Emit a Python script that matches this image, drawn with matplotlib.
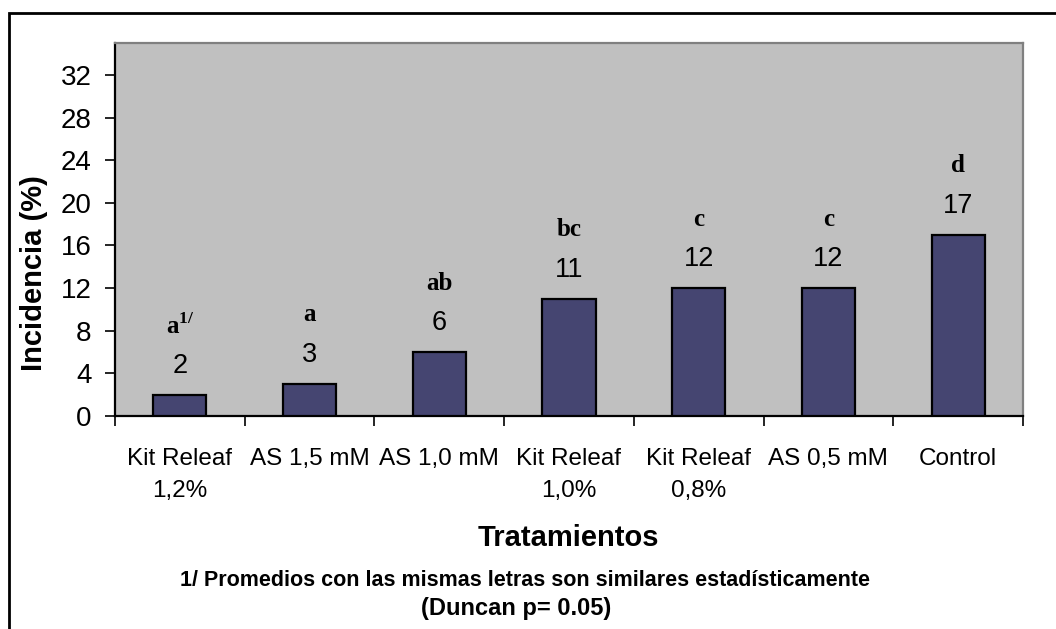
import matplotlib
matplotlib.use("Agg")
import matplotlib.pyplot as plt
from matplotlib.patches import Rectangle
import numpy as np

# datos
tratamientos = ["Kit Releaf\n1,2%", "AS 1,5 mM", "AS 1,0 mM", "Kit Releaf\n1,0%",
                "Kit Releaf\n0,8%", "AS 0,5 mM", "Control"]
incidencia = [2, 3, 6, 11, 12, 12, 17]
letras = ["a", "a", "ab", "bc", "c", "c", "d"]

plt.rcParams["font.family"] = ["Liberation Sans", "DejaVu Sans"]
plt.rcParams["mathtext.fontset"] = "custom"
plt.rcParams["mathtext.bf"] = "Liberation Serif:bold"
plt.rcParams["mathtext.rm"] = "Liberation Serif:bold"

fig = plt.figure(figsize=(10.56, 6.29), dpi=100)
ax = fig.add_axes([115 / 1056, 1 - 416 / 629, (1023 - 115) / 1056, (416 - 43) / 629])
ax.set_facecolor("#c0c0c0")

x = np.arange(len(incidencia))
ax.bar(x, incidencia, width=0.41, color="#454571", edgecolor="black", linewidth=1.6, zorder=3)

# etiquetas de valor y letras de Duncan
for xi, v, l in zip(x, incidencia, letras):
    ax.text(xi, v + 1.5, str(v), ha="center", va="bottom", fontsize=19.5)
    if xi == 0:
        ax.text(xi, v + 5.2, r"$\mathbf{a}^{\mathbf{1/}}$", ha="center", va="bottom", fontsize=18)
    else:
        ax.text(xi, v + 5.4, l, ha="center", va="bottom", fontsize=18,
                family="Liberation Serif", weight="bold")

ax.set_xlim(-0.5, len(incidencia) - 0.5)
ax.set_ylim(0, 35)
ax.set_yticks(np.arange(0, 33, 4))
ax.tick_params(axis="y", labelsize=20, length=7, width=1.2, direction="out", pad=10)
ax.set_xticks(x)
ax.set_xticklabels(tratamientos, fontsize=17.5, linespacing=1.6)
ax.tick_params(axis="x", length=0, pad=23)
ax.set_xticks(np.arange(-0.5, len(incidencia), 1), minor=True)
ax.tick_params(axis="x", which="minor", length=7, width=1.2, direction="out")

for s in ["left", "bottom"]:
    ax.spines[s].set_color("black")
    ax.spines[s].set_linewidth(1.6)
for s in ["top", "right"]:
    ax.spines[s].set_color("#808080")
    ax.spines[s].set_linewidth(1.6)

fig.text(34 / 1056, 1 - 273 / 629, "Incidencia (%)", rotation=90, ha="center", va="center",
         fontsize=21, weight="bold")

fig.text(568 / 1056, 1 - 538 / 629, "Tratamientos", ha="center", va="center",
         fontsize=21, weight="bold")
fig.text(525 / 1056, 1 - 580 / 629,
         "1/ Promedios con las mismas letras son similares estadísticamente",
         ha="center", va="center", fontsize=15.5, weight="bold")
fig.text(516 / 1056, 1 - 608 / 629, "(Duncan p= 0.05)", ha="center", va="center",
         fontsize=17, weight="bold")

# marco exterior
fig.patches.append(Rectangle((9 / 1056, -0.1), 1.2, 1 - 13 / 629 + 0.1,
                             transform=fig.transFigure, fill=False,
                             edgecolor="black", linewidth=2))

fig.savefig("out.png", dpi=100)
